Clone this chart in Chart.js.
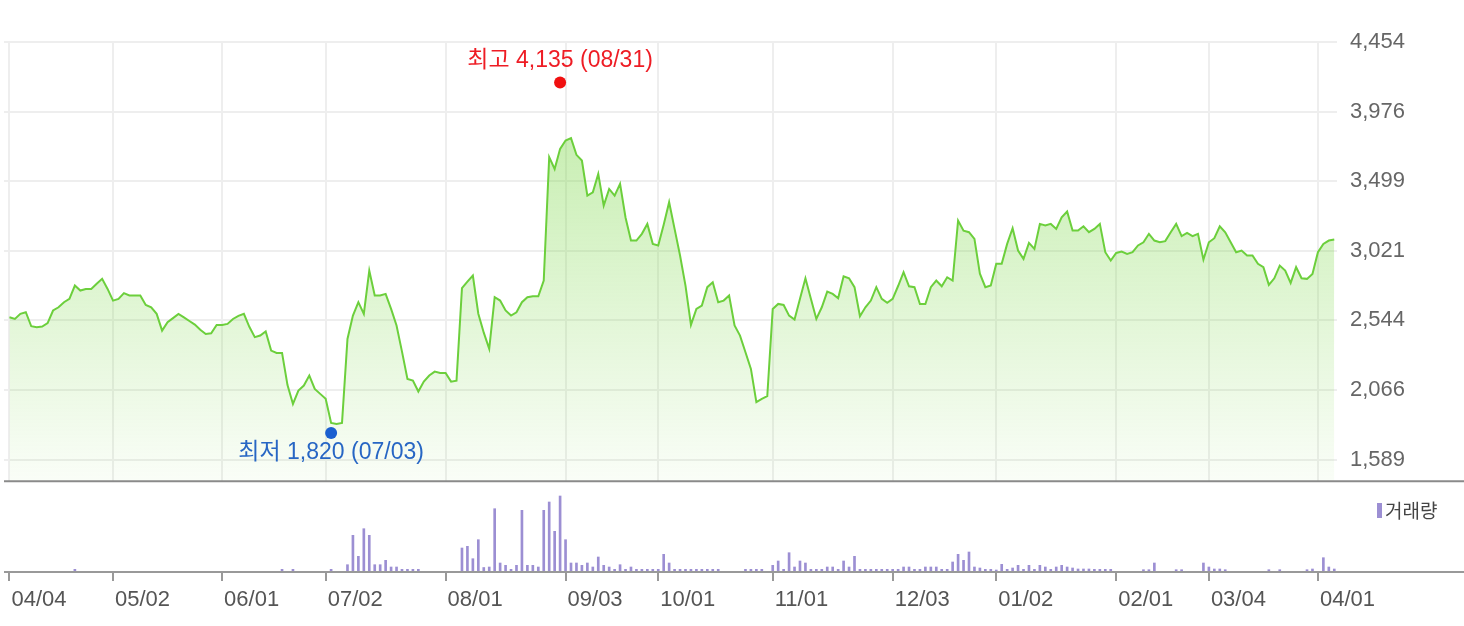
<!DOCTYPE html>
<html>
<head>
<meta charset="utf-8">
<script src="https://cdn.jsdelivr.net/npm/chart.js@4.4.1/dist/chart.umd.min.js"></script>
<style>
    html, body { margin: 0; padding: 0; background: #fff; }
    #wrap { width: 1464px; height: 626px; position: relative; }
</style>
</head>
<body>
<div id="wrap"><canvas id="priceChart"></canvas></div>
<script>
// closing prices, one per trading day (2018-04-04 .. 2019-04-04)
const closes = [
    2566, 2554, 2589, 2600, 2504, 2497, 2502, 2525, 2612, 2634,
    2669, 2692, 2783, 2749, 2760, 2760, 2795, 2829, 2760, 2680,
    2692, 2731, 2715, 2715, 2715, 2650, 2634, 2589, 2474, 2532,
    2560, 2589, 2565, 2540, 2515, 2480, 2451, 2456, 2513, 2513,
    2520, 2554, 2575, 2589, 2500, 2429, 2440, 2468, 2337, 2321,
    2321, 2100, 1971, 2063, 2097, 2166, 2074, 2040, 2006, 1841,
    1834, 1841, 2417, 2577, 2669, 2589, 2886, 2715, 2715, 2726,
    2623, 2509, 2330, 2143, 2131, 2056, 2124, 2166, 2193, 2184,
    2184, 2124, 2131, 2765, 2810, 2852, 2590, 2460, 2349, 2703,
    2680, 2612, 2577, 2600, 2669, 2703, 2710, 2710, 2817, 3664,
    3583, 3721, 3778, 3794, 3680, 3641, 3400, 3423, 3549, 3332,
    3446, 3400, 3481, 3250, 3092, 3092, 3138, 3206, 3069, 3058,
    3200, 3355, 3172, 2989, 2783, 2513, 2623, 2646, 2772, 2806,
    2669, 2680, 2715, 2509, 2440, 2326, 2211, 1983, 2006, 2024,
    2623, 2657, 2650, 2577, 2550, 2692, 2833, 2692, 2554, 2634,
    2742, 2726, 2696, 2847, 2833, 2772, 2573, 2634, 2680, 2772,
    2692, 2665, 2692, 2780, 2875, 2778, 2772, 2657, 2657, 2772,
    2817, 2778, 2840, 2817, 3229, 3160, 3149, 3103, 2865, 2772,
    2783, 2932, 2932, 3069, 3176, 3023, 2966, 3076, 3035, 3206,
    3195, 3206, 3172, 3252, 3291, 3160, 3160, 3190, 3149, 3172,
    3206, 3012, 2955, 3007, 3016, 3000, 3012, 3058, 3080, 3138,
    3092, 3080, 3088, 3149, 3206, 3122, 3144, 3122, 3138, 2961,
    3080, 3108, 3190, 3149, 3080, 3012, 3023, 2989, 2989, 2932,
    2909, 2788, 2833, 2920, 2886, 2801, 2909, 2833, 2829, 2863,
    3012, 3069, 3092, 3099
];

// traded volume (relative units)
const volumes = [
    0, 0, 0, 0, 0, 0, 0, 0, 0, 0,
    0, 0, 27, 0, 0, 0, 0, 0, 0, 0,
    0, 0, 0, 0, 0, 0, 0, 0, 0, 0,
    0, 0, 0, 0, 0, 0, 0, 0, 0, 0,
    0, 0, 0, 0, 0, 0, 0, 0, 0, 0,
    27, 0, 27, 0, 0, 0, 0, 0, 0, 27,
    0, 0, 73, 367, 157, 433, 367, 73, 73, 117,
    50, 50, 27, 27, 27, 27, 0, 0, 0, 0,
    0, 0, 0, 240, 257, 133, 323, 45, 50, 633,
    90, 67, 27, 67, 617, 67, 67, 50, 617, 700,
    407, 760, 323, 90, 90, 67, 90, 50, 150, 67,
    50, 27, 73, 27, 50, 27, 27, 27, 27, 27,
    177, 90, 27, 27, 27, 27, 27, 27, 27, 27,
    27, 0, 0, 0, 0, 27, 27, 27, 27, 0,
    67, 110, 27, 193, 50, 110, 90, 27, 27, 27,
    50, 50, 27, 110, 50, 157, 27, 27, 27, 27,
    27, 27, 27, 27, 50, 50, 27, 27, 50, 50,
    50, 27, 27, 100, 177, 117, 200, 50, 40, 27,
    27, 20, 77, 27, 40, 67, 27, 67, 27, 67,
    50, 27, 50, 67, 50, 40, 30, 30, 30, 27,
    27, 27, 27, 0, 0, 0, 0, 0, 23, 23,
    90, 0, 0, 0, 23, 23, 0, 0, 0, 90,
    50, 30, 30, 23, 0, 0, 0, 0, 0, 0,
    0, 23, 0, 23, 0, 0, 0, 0, 23, 30,
    0, 143, 50, 30
];

const tickDays = [0, 19, 39, 58, 80, 102, 119, 140, 162, 181, 203, 220, 240];
const tickLabels = ['04/04', '05/02', '06/01', '07/02', '08/01', '09/03', '10/01', '11/01', '12/03', '01/02', '02/01', '03/04', '04/01'];
const priceTicks = [1589, 2066, 2544, 3021, 3499, 3976, 4454];

const highMark = { day: 101, value: 4135, text: '최고 4,135 (08/31)' };
const lowMark = { day: 59, value: 1820, text: '최저 1,820 (07/03)' };

const PRICE_MAX = 4454;
const PRICE_MIN = 818;
const PRICE_FLOOR = 1441;   // bottom of the price panel
const VOLUME_MAX = 5300;

const FONT = "'Liberation Sans', 'Noto Sans CJK KR', sans-serif";
Chart.defaults.font.family = FONT;

const panels = {
    id: 'panels',
    beforeDatasetsDraw(chart) {
        const { ctx, chartArea, scales } = chart;
        const ySep = scales.y.getPixelForValue(PRICE_FLOOR);
        ctx.save();
        ctx.fillStyle = '#ffffff';
        ctx.fillRect(chartArea.left, ySep, chartArea.right - chartArea.left, chartArea.bottom - ySep);
        ctx.restore();
    },
    afterDatasetsDraw(chart) {
        const { ctx, chartArea, scales, width } = chart;
        const ySep = scales.y.getPixelForValue(PRICE_FLOOR);
        ctx.save();
        ctx.strokeStyle = '#8a8a8a';
        ctx.lineWidth = 2;
        ctx.beginPath();
        ctx.moveTo(chartArea.left, ySep);
        ctx.lineTo(width, ySep);
        ctx.stroke();
        ctx.strokeStyle = '#999';
        ctx.beginPath();
        ctx.moveTo(chartArea.left, chartArea.bottom);
        ctx.lineTo(width, chartArea.bottom);
        ctx.stroke();

        // high / low markers
        const marks = [
            { m: highMark, color: '#f01010', text: '#ee1c24', dy: -6, ty: -22 },
            { m: lowMark, color: '#1a5fd0', text: '#2766c4', dy: 7, ty: 20 }
        ];
        ctx.font = '23px ' + FONT;
        ctx.textAlign = 'center';
        ctx.textBaseline = 'middle';
        marks.forEach(function(k) {
            const x = scales.x.getPixelForValue(k.m.day);
            const y = scales.y.getPixelForValue(k.m.value) + k.dy;
            ctx.fillStyle = k.color;
            ctx.beginPath();
            ctx.arc(x, y, 6, 0, Math.PI * 2);
            ctx.fill();
            ctx.fillStyle = k.text;
            ctx.fillText(k.m.text, x, y + k.ty);
        });

        // volume legend
        ctx.fillStyle = '#9c8fd3';
        ctx.fillRect(1377, 503, 5, 15);
        ctx.fillStyle = '#444';
        ctx.textAlign = 'left';
        ctx.font = "19px 'Noto Sans CJK KR', sans-serif";
        ctx.fillText('거래량', 1385, 511);
        ctx.restore();
    }
};

const canvas = document.getElementById('priceChart');
const chart = new Chart(canvas.getContext('2d'), {
    type: 'line',
    data: {
        datasets: [{
            label: '종가',
            data: closes.map(function(v, i) { return { x: i, y: v }; }),
            yAxisID: 'y',
            borderColor: '#6ccf3c',
            borderWidth: 2,
            pointRadius: 0,
            tension: 0,
            fill: { value: PRICE_FLOOR },
            backgroundColor: function(c) {
                const area = c.chart.chartArea;
                if (!area) {
                    return 'rgba(120, 214, 66, 0.3)';
                }
                const g = c.chart.ctx.createLinearGradient(0, area.top, 0, c.chart.scales.y.getPixelForValue(PRICE_FLOOR));
                g.addColorStop(0, 'rgba(120, 214, 66, 0.5)');
                g.addColorStop(1, 'rgba(120, 214, 66, 0.04)');
                return g;
            }
        }, {
            type: 'bar',
            label: '거래량',
            data: volumes.map(function(v, i) { return { x: i, y: v }; }),
            yAxisID: 'yv',
            backgroundColor: '#9c8fd3',
            barThickness: 2
        }]
    },
    options: {
        responsive: true,
        maintainAspectRatio: false,
        animation: false,
        layout: { padding: { top: 42, left: 4, right: 0, bottom: 0 } },
        plugins: {
            legend: { display: false },
            tooltip: { enabled: false }
        },
        scales: {
            x: {
                type: 'linear',
                min: -1,
                max: 243.5,
                offset: false,
                afterFit: function(s) { s.height = 54; },
                afterBuildTicks: function(s) {
                    s.ticks = tickDays.map(function(d) { return { value: d }; });
                },
                grid: {
                    color: '#eeeeee',
                    lineWidth: 2,
                    tickColor: '#999',
                    tickLength: 9,
                    offset: false
                },
                border: { display: false },
                ticks: {
                    autoSkip: false,
                    maxRotation: 0,
                    align: 'start',
                    labelOffset: 2,
                    padding: 6,
                    color: '#555',
                    font: { size: 22 },
                    callback: function(value, index) { return tickLabels[index]; }
                }
            },
            y: {
                position: 'right',
                min: PRICE_MIN,
                max: PRICE_MAX,
                afterFit: function(s) { s.width = 127; },
                afterBuildTicks: function(s) {
                    s.ticks = priceTicks.map(function(v) { return { value: v }; });
                },
                grid: { color: '#eeeeee', lineWidth: 2, drawTicks: false },
                border: { display: false },
                ticks: {
                    padding: 13,
                    color: '#666',
                    font: { size: 22 },
                    callback: function(v) { return v.toLocaleString('en-US'); }
                }
            },
            yv: {
                display: false,
                position: 'left',
                min: 0,
                max: VOLUME_MAX
            }
        }
    },
    plugins: [panels]
});
</script>
</body>
</html>
